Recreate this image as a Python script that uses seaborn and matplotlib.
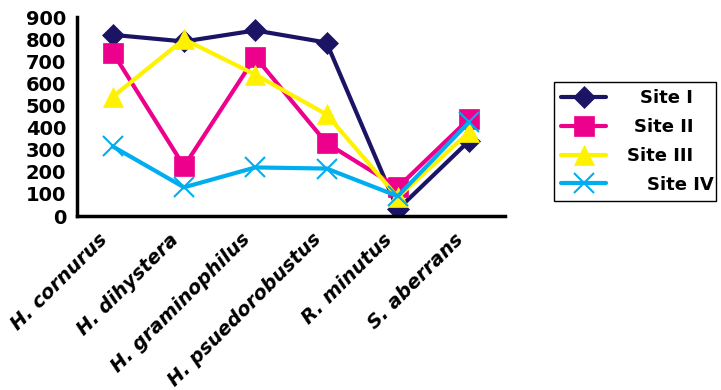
import matplotlib
matplotlib.use("Agg")
import matplotlib.pyplot as plt
import matplotlib.transforms as mtransforms
from matplotlib.ticker import FixedLocator, NullFormatter
import seaborn as sns
import pandas as pd

species = ["H. cornurus", "H. dihystera", "H. graminophilus",
           "H. psuedorobustus", "R. minutus", "S. aberrans"]
site_names = ["Site I", "Site II", "Site III", "Site IV"]
site_1 = [820, 790, 840, 785, 30, 340]
site_2 = [740, 225, 720, 330, 130, 440]
site_3 = [540, 800, 640, 460, 85, 380]
site_4 = [315, 130, 220, 215, 90, 425]

colors = ["#1B1464", "#EC008C", "#FFF200", "#00AEEF"]
markers = ["D", "s", "^", "x"]
msizes = [11, 14, 15, 14]

rows = []
for name, vals in zip(site_names, [site_1, site_2, site_3, site_4]):
    for i, (sp, v) in enumerate(zip(species, vals)):
        rows.append({"pos": i, "species": sp, "site": name, "count": v})
df = pd.DataFrame(rows)

sns.set_theme(style="white")
plt.rcParams["font.family"] = ["DejaVu Sans"]
plt.rcParams["text.color"] = "black"
plt.rcParams["xtick.color"] = "black"
plt.rcParams["ytick.color"] = "black"

fig = plt.figure(figsize=(7.21, 3.90), dpi=100)
ax = fig.add_axes([0.107, 0.446, 0.593, 0.51])

for name, c, m, ms in zip(site_names, colors, markers, msizes):
    sub = df[df["site"] == name]
    sns.lineplot(data=sub, x="pos", y="count", ax=ax, color=c, linewidth=3,
                 marker=m, markersize=ms, markeredgecolor=c,
                 markeredgewidth=1.5 if m == "x" else 0.5, label=name)

ax.set_xlim(-0.5, 5.5)
ax.set_ylim(0, 900)
ax.set_yticks(range(0, 901, 100))
ax.set_xticks(range(len(species)))
ax.xaxis.set_minor_locator(FixedLocator([i - 0.5 for i in range(len(species) + 1)]))
ax.xaxis.set_minor_formatter(NullFormatter())
ax.tick_params(axis="x", which="major", length=0, pad=10)
ax.tick_params(axis="x", which="minor", length=7, width=2, color="black", direction="out")
ax.tick_params(axis="y", length=5, width=2, color="black", direction="out", pad=3)
ax.set_xticklabels(species, rotation=45, ha="right", rotation_mode="anchor",
                   fontsize=14, fontweight="bold", fontstyle="italic")
shift = mtransforms.ScaledTranslation(-15 / 100, 0, fig.dpi_scale_trans)
for lab in ax.get_xticklabels():
    lab.set_transform(lab.get_transform() + shift)
for lab in ax.get_yticklabels():
    lab.set_fontsize(14)
    lab.set_fontweight("bold")
ax.set_xlabel("")
ax.set_ylabel("")
sns.despine(ax=ax)
for s in ["left", "bottom"]:
    ax.spines[s].set_linewidth(2.5)
    ax.spines[s].set_color("black")

# legend box spanning a fixed width, labels right-aligned inside it
handles, labels = ax.get_legend_handles_labels()
ax.get_legend().remove()
W, H = 721, 390
leg = fig.legend(handles, labels, loc="upper left", mode="expand",
                 bbox_to_anchor=(554 / W, 1 - 202 / H, 162 / W, 120 / H),
                 borderaxespad=0, framealpha=1,
                 prop={"weight": "bold", "size": 13}, frameon=True,
                 fancybox=False, edgecolor="black", handlelength=2.5,
                 borderpad=0.4, labelspacing=0.6, handletextpad=1.0)
leg.get_frame().set_linewidth(1)

fig.canvas.draw()
renderer = fig.canvas.get_renderer()
right_edges = [693, 693, 693, 714]
for txt, xr in zip(leg.get_texts(), right_edges):
    bb = txt.get_window_extent(renderer)
    yc = (bb.y0 + bb.y1) / 2
    fig.text(xr / W, yc / H, txt.get_text(), ha="right", va="center",
             fontsize=13, fontweight="bold", color="black", zorder=10)
    txt.set_visible(False)

fig.savefig("out.png", dpi=100, facecolor="white")
